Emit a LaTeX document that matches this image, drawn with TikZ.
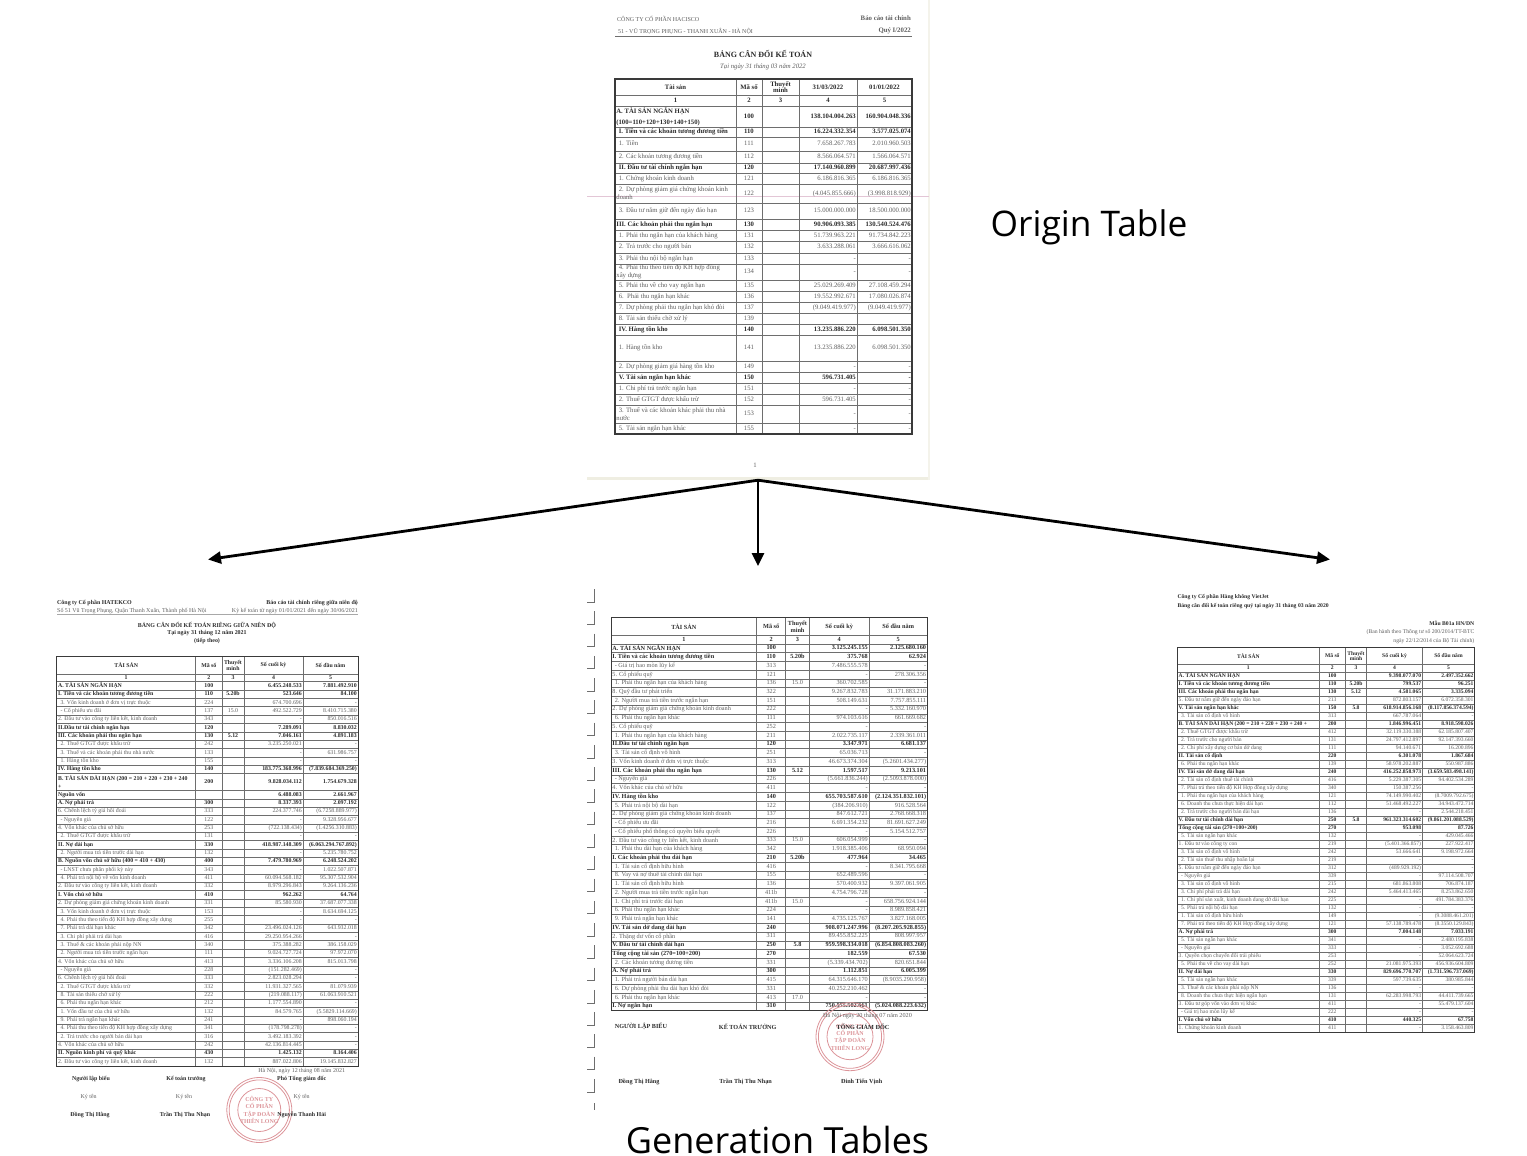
\documentclass[tikz,border=0pt]{standalone}
\usepackage{fontspec}
\setmainfont{Liberation Serif}
\newfontfamily\capfont{Open Sans}
\usetikzlibrary{arrows.meta,positioning}
\definecolor{finInk}{HTML}{2b2b2b}
\definecolor{finGrey}{HTML}{5f5f5f}
\definecolor{finLine}{HTML}{6e6e6e}
\definecolor{finRule}{HTML}{3a3a3a}
\definecolor{finStamp}{HTML}{dc9499}
\definecolor{finPink}{HTML}{e3c6d6}
\definecolor{finEdge}{HTML}{efeee2}
\tikzset{
  >={Triangle[length=13pt,width=12pt]},
  cellb/.style={inner sep=0pt, text=finInk, font=\cellfont\bfseries},
  celln/.style={inner sep=0pt, text=finGrey, font=\cellfont},
  cellfix/.style={text height=4.2pt, text depth=1.2pt},
  cellh/.style={inner sep=0pt, text=finInk, font=\cellfont\bfseries, align=center},
  head/.style={inner sep=0pt, text=finInk, font=\headfont\bfseries},
  sub/.style={inner sep=0pt, text=finGrey, font=\headfont},
  rowline/.style={draw=finLine, line width=\gridw pt},
  frameline/.style={draw=finRule, line width=\gridw pt+0.2pt},
  flow/.style={->, draw=black, line width=2.8pt},
  captext/.style={inner sep=0pt, text=black, font=\capfont\fontsize{36}{40}\selectfont},
  stampring/.style={draw=finStamp, line width=0.8pt},
  stamptext/.style={inner sep=0pt, text=finStamp, align=center, font=\fontsize{6}{7.3}\selectfont\bfseries},
  cropmark/.style={draw=finLine, line width=0.7pt},
}
\newcommand{\cellfont}{\fontsize{\cellfs}{\cellfs}\selectfont}
\newcommand{\headfont}{\fontsize{\headfs}{\headfs}\selectfont}
\newcommand{\cellfs}{5.6}
\newcommand{\headfs}{5.6}
\newcommand{\gridw}{0.6}
\newcount\rowno
% column lines of the table in force
\newcommand{\setcols}[6]{\def\cA{#1}\def\cB{#2}\def\cC{#3}\def\cD{#4}\def\cE{#5}\def\cF{#6}}
% one body row: [height]{b or n}{label}{code}{note}{end}{start}
\newcommand{\finrow}[7][\rowh]{%
  \global\advance\rowno by 1
  \pgfmathsetmacro\rowend{\rowtop+#1}%
  \pgfmathsetmacro\rowmid{\rowtop+#1/2}%
  \node[cell#2,anchor=west,align=left] (r\the\rowno l) at (\cA+1.2,\rowmid) {\rule[-1.2pt]{0pt}{5.4pt}#3};
  \node[cell#2,cellfix] (r\the\rowno c) at ({(\cB+\cC)/2},\rowmid) {#4};
  \node[cell#2,cellfix] (r\the\rowno n) at ({(\cC+\cD)/2},\rowmid) {#5};
  \node[cell#2,cellfix,anchor=east] (r\the\rowno a) at (\cE-1,\rowmid) {#6};
  \node[cell#2,cellfix,anchor=east] (r\the\rowno b) at (\cF-1,\rowmid) {#7};
  \draw[rowline] (\cA,\rowend) -- (\cF,\rowend);
  \global\let\rowtop\rowend
}
% the grid lines over a finished table
\newcommand{\fingrid}[1]{%
  \foreach \cx in {\cB,\cC,\cD,\cE}{\draw[rowline] (\cx,#1) -- (\cx,\rowtop);}
  \draw[frameline] (\cA,#1) rectangle (\cF,\rowtop);
}
% header rows of a table
\newcommand{\finhead}[7]{%
  \def\rowtop{#1}%
  \pgfmathsetmacro\rowmid{(#1+#2)/2}%
  \node[cellh] (#7t1) at ({(\cA+\cB)/2},\rowmid) {#3};
  \node[cellh] (#7t2) at ({(\cB+\cC)/2},\rowmid) {Mã số};
  \node[cellh] (#7t3) at ({(\cC+\cD)/2},\rowmid) {Thuyết\\minh};
  \node[cellh] (#7t4) at ({(\cD+\cE)/2},\rowmid) {#4};
  \node[cellh] (#7t5) at ({(\cE+\cF)/2},\rowmid) {#5};
  \draw[rowline] (\cA,#2) -- (\cF,#2);
  \pgfmathsetmacro\rowmid{(#2+#6)/2}%
  \node[cellh] (#7n1) at ({(\cA+\cB)/2},\rowmid) {1};
  \node[cellh] (#7n2) at ({(\cB+\cC)/2},\rowmid) {2};
  \node[cellh] (#7n3) at ({(\cC+\cD)/2},\rowmid) {3};
  \node[cellh] (#7n4) at ({(\cD+\cE)/2},\rowmid) {4};
  \node[cellh] (#7n5) at ({(\cE+\cF)/2},\rowmid) {5};
  \draw[rowline] (\cA,#6) -- (\cF,#6);
  \def\rowtop{#6}%
}
% round company stamp
\newcommand{\thstamp}[4]{%
  \draw[stampring] (#2,#3) circle (#4);
  \draw[stampring] (#2,#3) circle ({#4-2.4});
  \draw[stampring] (#2,#3) circle ({#4-11});
  \node[stamptext] (#1) at (#2,#3) {CÔNG TY\\CỔ PHẦN\\TẬP ĐOÀN\\THIÊN LONG};
}
\newcommand{\ii}{\hspace*{2.4pt}}

\begin{document}
\begin{tikzpicture}[x=1pt,y=-1pt]
  \useasboundingbox (0,0) rectangle (1527,1156);
  % origin page
  \node[fill=white,inner sep=0pt,minimum width=342pt,minimum height=480pt] (originPage) at (758,240) {};
  \fill[finEdge] (587,476.5) rectangle (929,480);
  \fill[finEdge!70] (928,0) rectangle (929.5,480);
  \draw[finPink,line width=0.6pt] (587,196) -- (929,196);
  \renewcommand{\headfs}{6}
  \node[sub,anchor=west] (orgName) at (617,18.5) {CÔNG TY CỔ PHẦN HACISCO};
  \node[sub,anchor=west] (orgAddr) at (618,31.5) {51 - VŨ TRỌNG PHỤNG - THANH XUÂN - HÀ NỘI};
  \renewcommand{\headfs}{6.8}
  \node[sub,anchor=east,font=\headfont\bfseries] (orgDoc) at (911,18) {Báo cáo tài chính};
  \node[sub,anchor=east,font=\headfont\bfseries] (orgQuarter) at (911,31) {Quý I/2022};
  \draw[draw=finLine,line width=1pt] (615,37) -- (912,37);
  \renewcommand{\headfs}{8}
  \node[head] (orgTitle) at (763,53.5) {BẢNG CÂN ĐỐI KẾ TOÁN};
  \renewcommand{\headfs}{6.7}
  \node[sub,font=\headfont\itshape] (orgDate) at (763,66.5) {Tại ngày 31 tháng 03 năm 2022};
  \node[sub] (orgPage) at (755,465) {1};
  \renewcommand{\cellfs}{6.7}
  \renewcommand{\gridw}{0.9}
  \setcols{615}{736}{762}{799}{857}{912}
  \finhead{79}{95}{Tài sản}{31/03/2022}{01/01/2022}{106}{org}
  \finrow[21]{b}{A. TÀI SẢN NGẮN HẠN\\[4pt](100=110+120+130+140+150)}{100}{}{138.104.004.263}{160.904.048.336}
  \finrow[10]{b}{\ii I. Tiền và các khoản tương đương tiền}{110}{}{16.224.332.354}{3.577.025.074}
  \finrow[14]{n}{\ii 1. Tiền}{111}{}{7.658.267.783}{2.010.960.503}
  \finrow[12]{n}{\ii 2. Các khoản tương đương tiền}{112}{}{8.566.064.571}{1.566.064.571}
  \finrow[10]{b}{\ii II. Đầu tư tài chính ngắn hạn}{120}{}{17.140.960.899}{20.687.997.436}
  \finrow[11]{n}{\ii 1. Chứng khoán kinh doanh}{121}{}{6.186.816.365}{6.186.816.365}
  \finrow[19]{n}{\ii 2. Dự phòng giảm giá chứng khoán kinh\\[1.6pt]doanh}{122}{}{(4.045.855.666)}{(3.998.818.929)}
  \finrow[16]{n}{\ii 3. Đầu tư nắm giữ đến ngày đáo hạn}{123}{}{15.000.000.000}{18.500.000.000}
  \finrow[11]{b}{III. Các khoản phải thu ngắn hạn}{130}{}{90.906.093.385}{130.540.524.476}
  \finrow[11]{n}{\ii 1. Phải thu ngắn hạn của khách hàng}{131}{}{51.739.963.221}{91.734.842.223}
  \finrow[12]{n}{\ii 2. Trả trước cho người bán}{132}{}{3.633.288.061}{3.666.616.062}
  \finrow[11]{n}{\ii 3. Phải thu nội bộ ngắn hạn}{133}{}{-}{-}
  \finrow[16]{n}{\ii 4. Phải thu theo tiến độ KH hợp đồng\\[1pt]xây dựng}{134}{}{-}{-}
  \finrow[11]{n}{\ii 5. Phải thu về cho vay ngắn hạn}{135}{}{25.029.269.409}{27.108.459.294}
  \finrow[11]{n}{\ii 6.\ \ Phải thu ngắn hạn khác}{136}{}{19.552.992.671}{17.080.026.874}
  \finrow[11]{n}{\ii 7. Dự phòng phải thu ngắn hạn khó đòi}{137}{}{(9.049.419.977)}{(9.049.419.977)}
  \finrow[11]{n}{\ii 8. Tài sản thiếu chờ xử lý}{139}{}{}{}
  \finrow[11]{b}{\ii IV. Hàng tồn kho}{140}{}{13.235.886.220}{6.098.501.350}
  \finrow[26]{n}{\ii 1. Hàng tồn kho}{141}{}{13.235.886.220}{6.098.501.350}
  \finrow[11]{n}{\ii 2. Dự phòng giảm giá hàng tồn kho}{149}{}{-}{-}
  \finrow[11]{b}{\ii V. Tài sản ngắn hạn khác}{150}{}{596.731.405}{-}
  \finrow[11]{n}{\ii 1. Chi phí trả trước ngắn hạn}{151}{}{-}{-}
  \finrow[11]{n}{\ii 2. Thuế GTGT được khấu trừ}{152}{}{596.731.405}{-}
  \finrow[18]{n}{\ii 3. Thuế và các khoản khác phải thu nhà\\[1.6pt]nước}{153}{}{-}{-}
  \finrow[11]{n}{\ii 5. Tài sản ngắn hạn khác}{155}{}{-}{-}
  \fingrid{79}
  \renewcommand{\gridw}{0.6}
  % left generated table
  \renewcommand{\headfs}{5.95}
  \node[head,anchor=west] (lftName) at (57,602.7) {Công ty Cổ phần HATEKCO};
  \node[sub,anchor=west] (lftAddr) at (57,610.7) {Số 51 Vũ Trọng Phụng, Quận Thanh Xuân, Thành phố Hà Nội};
  \node[head,anchor=east] (lftDoc) at (358,603) {Báo cáo tài chính riêng giữa niên độ};
  \node[sub,anchor=east] (lftTerm) at (358,611) {Kỳ kế toán từ ngày 01/01/2021 đến ngày 30/06/2021};
  \draw[draw=finLine!60,line width=0.5pt] (57,614.5) -- (358,614.5);
  \node[head] (lftTitle) at (207,625.7) {BẢNG CÂN ĐỐI KẾ TOÁN RIÊNG GIỮA NIÊN ĐỘ};
  \node[head] (lftDate) at (207,633.3) {Tại ngày 31 tháng 12 năm 2021};
  \node[head] (lftMore) at (207,641) {(tiếp theo)};
  \renewcommand{\cellfs}{5.85}
  \def\rowh{8.35}
  \setcols{56.7}{195.7}{222}{244}{303}{358}
  \finhead{656}{674}{TÀI SẢN}{Số cuối kỳ}{Số đầu năm}{681.7}{lft}
  \finrow{b}{A. TÀI SẢN NGẮN HẠN}{100}{}{6.455.248.533}{7.881.492.910}
  \finrow{b}{I. Tiền và các khoản tương đương tiền}{110}{5.20b}{523.646}{84.100}
  \finrow{n}{\ii 3. Vốn kinh doanh ở đơn vị trực thuộc}{224}{}{674.700.696}{-}
  \finrow{n}{\ii - Cổ phiếu ưu đãi}{137}{15.0}{492.522.729}{8.410.715.380}
  \finrow{n}{2. Đầu tư vào công ty liên kết, kinh doanh}{343}{}{-}{850.016.516}
  \finrow{b}{II.Đầu tư tài chính ngắn hạn}{120}{}{7.289.091}{8.830.032}
  \finrow{b}{III. Các khoản phải thu ngắn hạn}{130}{5.12}{7.046.161}{4.891.183}
  \finrow{n}{\ii 2. Thuế GTGT được khấu trừ}{242}{}{3.235.250.021}{-}
  \finrow{n}{\ii 3. Thuế và các khoản phải thu nhà nước}{133}{}{-}{631.986.757}
  \finrow{n}{\ii 1. Hàng tồn kho}{155}{}{-}{-}
  \finrow{b}{IV. Hàng tồn kho}{140}{}{183.775.368.996}{(7.839.684.369.250)}
  \finrow[16.9]{b}{B. TÀI SẢN DÀI HẠN (200 = 210 + 220 + 230 + 240\\[2.4pt]+}{200}{}{9.828.034.112}{1.754.679.328}
  \finrow{b}{Nguồn vốn}{}{}{6.488.083}{2.661.967}
  \finrow{b}{A. Nợ phải trả}{300}{}{8.337.393}{2.097.192}
  \finrow{n}{6. Chênh lệch tỷ giá hối đoái}{333}{}{224.377.746}{(6.7258.889.977)}
  \finrow{n}{\ii - Nguyên giá}{122}{}{-}{9.328.956.677}
  \finrow{n}{4. Vốn khác của chủ sở hữu}{253}{}{(722.138.434)}{(1.4256.310.883)}
  \finrow{n}{\ii 2. Thuế GTGT được khấu trừ}{131}{}{-}{-}
  \finrow{b}{II. Nợ dài hạn}{330}{}{418.987.148.309}{(6.063.294.767.892)}
  \finrow{n}{\ii 2. Người mua trả tiền trước dài hạn}{132}{}{-}{5.235.780.752}
  \finrow{b}{B. Nguồn vốn chủ sở hữu (400 = 410 + 430)}{400}{}{7.479.780.969}{6.248.524.202}
  \finrow{n}{\ii - LNST chưa phân phối kỳ này}{343}{}{-}{1.022.507.871}
  \finrow{n}{\ii 4. Phải trả nội bộ về vốn kinh doanh}{411}{}{60.094.568.182}{95.307.532.904}
  \finrow{n}{2. Đầu tư vào công ty liên kết, kinh doanh}{332}{}{8.979.296.843}{9.264.136.236}
  \finrow{b}{I. Vốn chủ sở hữu}{410}{}{962.262}{64.764}
  \finrow{n}{2. Dự phòng giảm giá chứng khoán kinh doanh}{331}{}{85.580.930}{37.687.077.338}
  \finrow{n}{\ii 3. Vốn kinh doanh ở đơn vị trực thuộc}{153}{}{-}{8.634.694.125}
  \finrow{n}{\ii 4. Phải thu theo tiến độ KH hợp đồng xây dựng}{255}{}{-}{-}
  \finrow{n}{\ii 7. Phải trả dài hạn khác}{342}{}{23.496.024.126}{643.932.018}
  \finrow{n}{\ii 3. Chi phí phải trả dài hạn}{416}{}{29.250.954.266}{-}
  \finrow{n}{\ii 3. Thuế \& các khoản phải nộp NN}{340}{}{375.388.282}{386.158.029}
  \finrow{n}{\ii 2. Người mua trả tiền trước ngắn hạn}{111}{}{9.024.727.724}{97.972.070}
  \finrow{n}{4. Vốn khác của chủ sở hữu}{413}{}{3.336.106.208}{815.013.798}
  \finrow{n}{\ii - Nguyên giá}{228}{}{(151.282.469)}{-}
  \finrow{n}{6. Chênh lệch tỷ giá hối đoái}{333}{}{2.823.028.294}{-}
  \finrow{n}{\ii 2. Thuế GTGT được khấu trừ}{332}{}{11.931.327.565}{81.079.939}
  \finrow{n}{\ii 8. Tài sản thiếu chờ xử lý}{222}{}{(219.088.117)}{61.063.910.521}
  \finrow{n}{\ii 6. Phải thu ngắn hạn khác}{212}{}{1.177.554.890}{-}
  \finrow{n}{\ii 1. Vốn đầu tư của chủ sở hữu}{132}{}{84.579.765}{(5.5829.114.669)}
  \finrow{n}{\ii 9. Phải trả ngắn hạn khác}{241}{}{-}{898.060.194}
  \finrow{n}{\ii 4. Phải thu theo tiến độ KH hợp đồng xây dựng}{341}{}{(178.798.278)}{-}
  \finrow{n}{\ii 2. Trả trước cho người bán dài hạn}{316}{}{3.492.183.392}{-}
  \finrow{n}{4. Vốn khác của chủ sở hữu}{242}{}{42.136.814.445}{-}
  \finrow{b}{II. Nguồn kinh phí và quỹ khác}{430}{}{1.425.132}{8.164.406}
  \finrow{n}{2. Đầu tư vào công ty liên kết, kinh doanh}{132}{}{887.022.806}{19.145.832.827}
  \fingrid{656}
  \node[sub] (lftPlace) at (301.7,1070.7) {Hà Nội, ngày 12 tháng 08 năm 2021};
  \thstamp{lftStamp}{259.3}{1110}{32.5}
  \node[head] (lftSignA) at (91,1079.3) {Người lập biểu};
  \node[head] (lftSignB) at (186,1079.3) {Kế toán trưởng};
  \node[head] (lftSignC) at (301.7,1079.3) {Phó Tổng giám đốc};
  \node[sub] (lftKyA) at (88.7,1097.3) {Ký tên};
  \node[sub] (lftKyB) at (184,1097.3) {Ký tên};
  \node[sub] (lftKyC) at (301.7,1097.3) {Ký tên};
  \node[head] (lftNameA) at (90,1114.7) {Đồng Thị Hằng};
  \node[head] (lftNameB) at (185,1114.7) {Trần Thị Thu Nhạn};
  \node[head] (lftNameC) at (301.7,1114.7) {Nguyễn Thanh Hải};
  % crop marks beside the middle table
  \foreach \i in {0,...,22}{
    \pgfmathsetmacro\my{602+22.27*\i}
    \draw[cropmark] (594.5,\my-13) -- (594.5,\my) -- (587,\my);
  }
  \draw[cropmark] (594.5,1103) -- (594.5,1110);
  % middle generated table
  \renewcommand{\cellfs}{6.25}
  \def\rowh{8.73}
  \setcols{611}{756.7}{785.7}{809.3}{869}{927.3}
  \finhead{617.7}{635.7}{TÀI SẢN}{Số cuối kỳ}{Số đầu năm}{644}{mid}
  \finrow{b}{A. TÀI SẢN NGẮN HẠN}{100}{}{3.125.245.155}{2.125.680.160}
  \finrow{b}{I. Tiền và các khoản tương đương tiền}{110}{5.20b}{375.768}{62.924}
  \finrow{n}{\ii - Giá trị hao mòn lũy kế}{313}{}{7.486.555.578}{-}
  \finrow{n}{5. Cổ phiếu quỹ}{121}{}{-}{278.306.356}
  \finrow{n}{\ii 1. Phải thu ngắn hạn của khách hàng}{136}{15.0}{360.702.585}{-}
  \finrow{n}{8. Quỹ đầu tư phát triển}{322}{}{9.267.832.783}{31.171.883.210}
  \finrow{n}{\ii 2. Người mua trả tiền trước ngắn hạn}{151}{}{508.149.631}{7.757.855.111}
  \finrow{n}{2. Dự phòng giảm giá chứng khoán kinh doanh}{222}{}{-}{5.332.160.970}
  \finrow{n}{\ii 6. Phải thu ngắn hạn khác}{111}{}{974.103.616}{661.669.682}
  \finrow{n}{5. Cổ phiếu quỹ}{252}{}{-}{-}
  \finrow{n}{\ii 1. Phải thu ngắn hạn của khách hàng}{211}{}{2.022.735.117}{2.339.361.011}
  \finrow{b}{II.Đầu tư tài chính ngắn hạn}{120}{}{3.347.971}{6.681.137}
  \finrow{n}{\ii 3. Tài sản cố định vô hình}{251}{}{65.036.713}{-}
  \finrow{n}{3. Vốn kinh doanh ở đơn vị trực thuộc}{313}{}{46.673.374.304}{(5.2601.434.277)}
  \finrow{b}{III. Các khoản phải thu ngắn hạn}{130}{5.12}{1.597.517}{9.213.101}
  \finrow{n}{\ii - Nguyên giá}{226}{}{(5.661.836.244)}{(2.5093.878.000)}
  \finrow{n}{4. Vốn khác của chủ sở hữu}{411}{}{-}{-}
  \finrow{b}{IV. Hàng tồn kho}{140}{}{655.703.587.610}{(2.124.351.832.101)}
  \finrow{n}{\ii 5. Phải trả nội bộ dài hạn}{122}{}{(384.206.910)}{916.528.564}
  \finrow{n}{2. Dự phòng giảm giá chứng khoán kinh doanh}{137}{}{847.612.721}{2.768.668.318}
  \finrow{n}{\ii - Cổ phiếu ưu đãi}{216}{}{6.691.354.232}{81.691.627.249}
  \finrow{n}{\ii - Cổ phiếu phổ thông có quyền biểu quyết}{226}{}{-}{5.154.512.757}
  \finrow{n}{2. Đầu tư vào công ty liên kết, kinh doanh}{333}{15.0}{606.054.999}{-}
  \finrow{n}{\ii 1. Phải thu dài hạn của khách hàng}{342}{}{1.918.385.406}{68.950.094}
  \finrow{b}{I. Các khoản phải thu dài hạn}{210}{5.20b}{477.964}{34.465}
  \finrow{n}{\ii 1. Tài sản cố định hữu hình}{416}{}{-}{8.341.795.668}
  \finrow{n}{\ii 8. Vay và nợ thuê tài chính dài hạn}{155}{}{652.489.596}{-}
  \finrow{n}{\ii 1. Tài sản cố định hữu hình}{136}{}{570.400.932}{9.397.061.905}
  \finrow{n}{\ii 2. Người mua trả tiền trước ngắn hạn}{411b}{}{4.754.796.728}{-}
  \finrow{n}{\ii 1. Chi phí trả trước dài hạn}{411b}{15.0}{-}{658.756.924.144}
  \finrow{n}{\ii 6. Phải thu ngắn hạn khác}{224}{}{-}{8.989.858.421}
  \finrow{n}{\ii 9. Phải trả ngắn hạn khác}{141}{}{4.735.125.767}{3.827.168.005}
  \finrow{b}{IV. Tài sản dở dang dài hạn}{240}{}{908.071.247.996}{(8.207.205.928.855)}
  \finrow{n}{2. Thặng dư vốn cổ phần}{311}{}{89.455.852.225}{808.997.957}
  \finrow{b}{V. Đầu tư tài chính dài hạn}{250}{5.8}{959.598.334.018}{(6.854.808.083.260)}
  \finrow{b}{Tổng cộng tài sản (270=100+200)}{270}{}{182.559}{67.530}
  \finrow{n}{\ii 2. Các khoản tương đương tiền}{331}{}{(5.339.434.702)}{820.651.844}
  \finrow{b}{A. Nợ phải trả}{300}{}{1.112.851}{6.005.399}
  \finrow{n}{\ii 1. Phải trả người bán dài hạn}{415}{}{64.315.646.170}{(8.9035.290.958)}
  \finrow{n}{\ii 6. Dự phòng phải thu dài hạn khó đòi}{331}{}{40.252.210.462}{-}
  \finrow{n}{\ii 6. Phải thu ngắn hạn khác}{413}{17.0}{-}{-}
  \finrow{b}{I. Nợ ngắn hạn}{310}{}{750.555.502.661}{(5.024.088.223.632)}
  \fingrid{617.7}
  \renewcommand{\headfs}{6.2}
  \thstamp{midStamp}{850}{1036.7}{34}
  \node[sub] (midPlace) at (867.5,1015.7) {Hà Nội ngày 20 tháng 07 năm 2020};
  \node[head] (midSignA) at (641,1026.7) {NGƯỜI LẬP BIỂU};
  \node[head] (midSignB) at (747.7,1026.7) {KẾ TOÁN TRƯỞNG};
  \node[head] (midSignC) at (863,1026.7) {TỔNG GIÁM ĐỐC};
  \node[head] (midNameA) at (639,1081.7) {Đồng Thị Hằng};
  \node[head] (midNameB) at (745.7,1081.7) {Trần Thị Thu Nhạn};
  \node[head] (midNameC) at (861.7,1081.7) {Đinh Tiến Vịnh};
  % right generated table
  \renewcommand{\headfs}{5.7}
  \node[head,anchor=west] (rgtName) at (1177.3,597) {Công ty Cổ phần Hàng không VietJet};
  \node[head,anchor=west] (rgtTitle) at (1177.3,606) {Bảng cân đối kế toán riêng quý tại ngày 31 tháng 03 năm 2020};
  \node[head,anchor=east] (rgtForm) at (1474.5,623.3) {Mẫu B01a HN/DN};
  \node[sub,anchor=east] (rgtRule) at (1474.5,632) {(Ban hành theo Thông tư số 200/2014/TT-BTC};
  \node[sub,anchor=east] (rgtRuleB) at (1474.5,641) {ngày 22/12/2014 của Bộ Tài chính)};
  \renewcommand{\cellfs}{5.6}
  \def\rowh{8.0}
  \setcols{1177.3}{1319.3}{1345.3}{1366.7}{1422.3}{1474.7}
  \finhead{647.7}{664}{TÀI SẢN}{Số cuối kỳ}{Số đầu năm}{672}{rgt}
  \finrow{b}{A. TÀI SẢN NGẮN HẠN}{100}{}{9.398.077.070}{2.497.352.662}
  \finrow{b}{I. Tiền và các khoản tương đương tiền}{110}{5.20b}{799.537}{96.251}
  \finrow{b}{III. Các khoản phải thu ngắn hạn}{130}{5.12}{4.581.065}{3.335.094}
  \finrow{n}{5. Đầu tư nắm giữ đến ngày đáo hạn}{213}{}{872.803.157}{6.072.358.301}
  \finrow{b}{V. Tài sản ngắn hạn khác}{150}{5.8}{618.914.856.168}{(8.117.856.374.594)}
  \finrow{n}{\ii 3. Tài sản cố định vô hình}{313}{}{667.787.064}{-}
  \finrow{b}{B. TÀI SẢN DÀI HẠN (200 = 210 + 220 + 230 + 240 +}{200}{}{1.846.996.451}{8.918.598.026}
  \finrow{n}{\ii 2. Thuế GTGT được khấu trừ}{412}{}{32.119.330.388}{62.185.807.407}
  \finrow{n}{\ii 2. Trả trước cho người bán}{131}{}{24.797.412.897}{92.147.393.660}
  \finrow{n}{\ii 2. Chi phí xây dựng cơ bản dở dang}{111}{}{94.140.671}{16.200.896}
  \finrow{b}{II. Tài sản cố định}{220}{}{6.301.078}{1.867.684}
  \finrow{n}{\ii 6. Phải thu ngắn hạn khác}{139}{}{58.978.202.887}{550.987.886}
  \finrow{b}{IV. Tài sản dở dang dài hạn}{240}{}{416.252.858.973}{(3.659.583.498.141)}
  \finrow{n}{\ii 2. Tài sản cố định thuê tài chính}{416}{}{5.229.387.305}{94.402.534.289}
  \finrow{n}{\ii 7. Phải trả theo tiến độ KH Hợp đồng xây dựng}{340}{}{150.387.256}{-}
  \finrow{n}{\ii 1. Phải thu ngắn hạn của khách hàng}{121}{}{74.149.990.402}{(8.7009.792.675)}
  \finrow{n}{\ii 6. Doanh thu chưa thực hiện dài hạn}{112}{}{51.468.492.227}{34.943.472.714}
  \finrow{n}{\ii 2. Trả trước cho người bán dài hạn}{136}{}{-}{2.544.218.451}
  \finrow{b}{V. Đầu tư tài chính dài hạn}{250}{5.8}{961.323.314.602}{(9.861.201.088.529)}
  \finrow{b}{Tổng cộng tài sản (270+100+200)}{270}{}{953.098}{87.726}
  \finrow{n}{\ii 5. Tài sản ngắn hạn khác}{132}{}{-}{429.045.466}
  \finrow{n}{1. Đầu tư vào công ty con}{219}{}{(5.401.366.857)}{227.922.417}
  \finrow{n}{\ii 3. Tài sản cố định vô hình}{242}{}{53.666.641}{9.198.972.664}
  \finrow{n}{\ii 2. Tài sản thuế thu nhập hoãn lại}{219}{}{-}{-}
  \finrow{n}{5. Đầu tư nắm giữ đến ngày đáo hạn}{312}{}{(489.929.192)}{-}
  \finrow{n}{\ii - Nguyên giá}{339}{}{-}{97.114.508.707}
  \finrow{n}{\ii 3. Tài sản cố định vô hình}{215}{}{681.863.808}{706.874.187}
  \finrow{n}{\ii 3. Chi phí phải trả dài hạn}{242}{}{5.464.413.465}{8.253.862.650}
  \finrow{n}{\ii 1. Chi phí sản xuất, kinh doanh dang dở dài hạn}{225}{}{-}{491.784.383.376}
  \finrow{n}{\ii 5. Phải trả nội bộ dài hạn}{132}{}{-}{-}
  \finrow{n}{\ii 1. Tài sản cố định hữu hình}{149}{}{-}{(9.3088.461.201)}
  \finrow{n}{\ii 7. Phải trả theo tiến độ KH Hợp đồng xây dựng}{121}{}{57.138.789.478}{(8.3550.129.843)}
  \finrow{b}{A. Nợ phải trả}{300}{}{7.004.148}{7.033.191}
  \finrow{n}{\ii 5. Tài sản ngắn hạn khác}{341}{}{-}{2.480.195.838}
  \finrow{n}{\ii - Nguyên giá}{333}{}{-}{3.052.692.688}
  \finrow{n}{3. Quyền chọn chuyển đổi trái phiếu}{253}{}{-}{52.064.623.724}
  \finrow{n}{\ii 5. Phải thu về cho vay dài hạn}{252}{}{21.081.975.393}{456.936.604.809}
  \finrow{b}{II. Nợ dài hạn}{330}{}{829.696.770.707}{(1.731.596.737.069)}
  \finrow{n}{\ii 5. Tài sản ngắn hạn khác}{339}{}{597.739.635}{380.985.844}
  \finrow{n}{\ii 3. Thuế \& các khoản phải nộp NN}{136}{}{-}{-}
  \finrow{n}{\ii 8. Doanh thu chưa thực hiện ngắn hạn}{131}{}{62.283.998.793}{44.411.739.665}
  \finrow{n}{3. Đầu tư góp vốn vào đơn vị khác}{411}{}{-}{55.479.137.604}
  \finrow{n}{\ii - Giá trị hao mòn lũy kế}{222}{}{-}{-}
  \finrow{b}{I. Vốn chủ sở hữu}{410}{}{440.325}{67.758}
  \finrow{n}{1. Chứng khoán kinh doanh}{411}{}{-}{3.158.463.809}
  \fingrid{647.7}
  % captions
  \node[captext,font=\capfont\fontsize{35.3}{40}\selectfont] (originLabel) at (1089,227) {Origin Table};
  \node[captext] (genLabel) at (777.5,1140) {Generation Tables};
  % arrows
  \coordinate (genLeft) at (208,559.5);
  \coordinate (genMid) at (758,566);
  \coordinate (genRight) at (1330,559.5);
  \draw[flow] (originPage.south) -- (genLeft);
  \draw[flow] (originPage.south) -- (genMid);
  \draw[flow] (originPage.south) -- (genRight);
\end{tikzpicture}
\end{document}
